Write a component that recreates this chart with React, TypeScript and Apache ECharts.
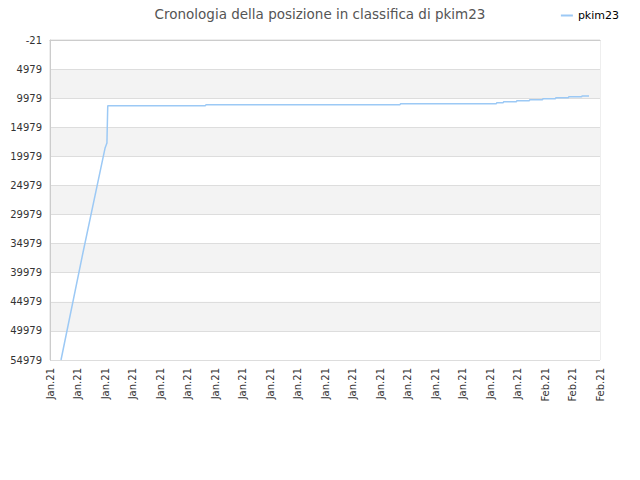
import { useEffect, useRef } from "react";
import * as echarts from "echarts";

// x positions are measured in tick steps from the first label (0..20)
const xLabels = [
  "Jan.21", "Jan.21", "Jan.21", "Jan.21", "Jan.21", "Jan.21", "Jan.21",
  "Jan.21", "Jan.21", "Jan.21", "Jan.21", "Jan.21", "Jan.21", "Jan.21",
  "Jan.21", "Jan.21", "Jan.21", "Jan.21", "Feb.21", "Feb.21", "Feb.21",
];
const pointX = [
  0.4, 1.2, 2.0, 2.07, 2.1, 5.65, 5.67, 12.72, 12.75, 16.23, 16.25, 16.48,
  16.5, 16.96, 16.98, 17.43, 17.45, 17.91, 17.93, 18.38, 18.4, 18.85, 18.87,
  19.33, 19.35, 19.6,
];
const ranks = [
  54979, 36500, 18600, 17700, 11271, 11271, 11120, 11120, 10927, 10927, 10755,
  10755, 10584, 10584, 10412, 10412, 10240, 10240, 10068, 10068, 9896, 9896,
  9724, 9724, 9604, 9604,
];
const yMin = -21;
const yMax = 54979;
const yStep = 5000;

export default function App() {
  const ref = useRef<HTMLDivElement>(null);

  useEffect(() => {
    if (!ref.current) return;
    const chart = echarts.init(ref.current, null, { renderer: "svg" });
    // shift so ticks fall on -21, 4979, ... while min stays a multiple of the step
    const data = pointX.map((x, i) => [x, ranks[i] - yMin]);
    chart.setOption({
      animation: false,
      backgroundColor: "#fff",
      textStyle: { fontFamily: "DejaVu Sans" },
      title: {
        text: "Cronologia della posizione in classifica di pkim23",
        left: "center",
        top: 2,
        textStyle: { fontSize: 13.5, fontWeight: "normal", color: "#555", fontFamily: "DejaVu Sans" },
      },
      legend: {
        right: 16,
        top: 5,
        itemWidth: 12,
        itemHeight: 2,
        itemGap: 8,
        icon: "rect",
        textStyle: { fontSize: 11, color: "#000", fontFamily: "DejaVu Sans" },
        data: ["pkim23"],
      },
      grid: { left: 50, right: 40, top: 40, bottom: 120, show: true, borderColor: "#ddd", borderWidth: 1 },
      xAxis: {
        type: "value",
        min: 0,
        max: xLabels.length - 1,
        interval: 1,
        axisLine: { lineStyle: { color: "#ccc" } },
        axisTick: { show: false },
        splitLine: { show: false },
        axisLabel: {
          rotate: 90,
          fontSize: 10,
          color: "#333",
          margin: 8,
          formatter: (v: number) => xLabels[Math.round(v)] ?? "",
        },
      },
      yAxis: {
        type: "value",
        inverse: true,
        min: 0,
        max: yMax - yMin,
        interval: yStep,
        axisLine: { show: true, lineStyle: { color: "#ccc" } },
        axisTick: { show: false },
        axisLabel: { fontSize: 10, color: "#333", margin: 8, formatter: (v: number) => String(v + yMin) },
        splitLine: { lineStyle: { color: "#ddd" } },
        splitArea: { show: true, areaStyle: { color: ["#ffffff", "#f3f3f3"] } },
      },
      series: [
        {
          name: "pkim23",
          type: "line",
          data,
          symbol: "none",
          color: "#9cc9f5",
          lineStyle: { width: 1.5, color: "#9cc9f5" },
        },
      ],
    });
    return () => chart.dispose();
  }, []);

  return <div ref={ref} style={{ width: 640, height: 480, margin: -8 }} />;
}
